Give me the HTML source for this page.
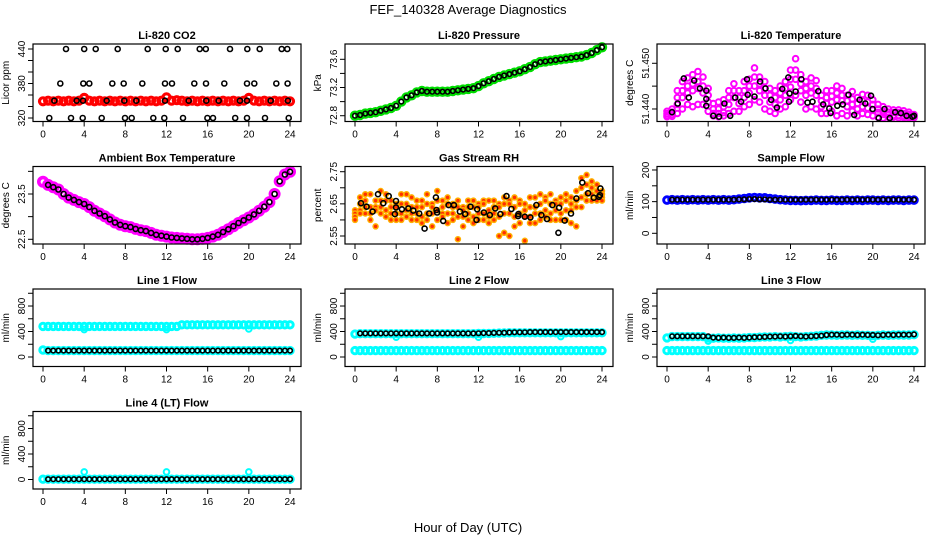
<!DOCTYPE html>
<html><head><meta charset="utf-8"><style>
html,body{margin:0;padding:0;background:#fff;}
svg{display:block;font-family:"Liberation Sans",sans-serif;}
</style></head><body>
<svg id="chart" width="936" height="540" viewBox="0 0 936 540">
<text x="468" y="14" text-anchor="middle" font-size="13">FEF_140328  Average Diagnostics</text>
<text x="468" y="532" text-anchor="middle" font-size="13">Hour of Day (UTC)</text>
</svg>
<script>
const hh=[0,0.5,1,1.5,2,2.5,3,3.5,4,4.5,5,5.5,6,6.5,7,7.5,8,8.5,9,9.5,10,10.5,11,11.5,12,12.5,13,13.5,14,14.5,15,15.5,16,16.5,17,17.5,18,18.5,19,19.5,20,20.5,21,21.5,22,22.5,23,23.5,24];
const bh=[0.5,1,1.5,2,2.5,3,3.5,4,4.5,5,5.5,6,6.5,7,7.5,8,8.5,9,9.5,10,10.5,11,11.5,12,12.5,13,13.5,14,14.5,15,15.5,16,16.5,17,17.5,18,18.5,19,19.5,20,20.5,21,21.5,22,22.5,23,23.5,24];
const xTicks=[0,4,8,12,16,20,24];
const spikeH=[4,12,20];

const co2Red=[349,350,349,350,349,350,349,350,355,350,349,350,349,350,349,350,349,350,349,350,349,350,349,350,356,350,351,350,349,350,349,350,349,350,349,350,349,350,349,350,355,350,349,350,349,350,349,350,349];
const co2BH=[2.23,4.0,5.12,7.26,10.17,11.92,13.09,15.23,15.82,18.17,19.85,21.06,23.19,23.74,1.68,3.92,4.5,6.73,7.84,9.65,11.85,12.53,14.7,15.84,17.62,19.82,20.53,22.67,23.77,1.1,3.27,3.89,6.19,7.9,9.07,11.85,14.16,15.87,17.07,19.14,19.82,22.12,23.8,0.61,2.72,3.86,5.7,7.97,8.62,10.72,11.79,13.6,15.97,16.52,18.68,19.82,21.57,23.87];
const co2BV=[440,440,440,440,440,440,440,440,440,440,440,440,440,440,380,380,380,380,380,380,380,380,380,380,380,380,380,380,380,350,350,350,350,350,350,350,350,350,350,350,350,350,350,320,320,320,320,320,320,320,320,320,320,320,320,320,320,320,320];
const pres=[72.80,72.81,72.83,72.84,72.85,72.87,72.89,72.91,72.94,73.00,73.06,73.09,73.13,73.15,73.14,73.14,73.14,73.14,73.14,73.15,73.16,73.17,73.18,73.19,73.22,73.26,73.29,73.32,73.35,73.37,73.39,73.41,73.43,73.46,73.49,73.53,73.56,73.57,73.58,73.59,73.60,73.61,73.62,73.63,73.64,73.66,73.69,73.73,73.77];
const ltH=[0.49,1.04,1.63,2.12,2.64,3.2,3.82,3.82,3.82,4.5,5.06,5.58,6.14,6.63,7.2,7.77,7.84,8.5,9.05,9.57,10.12,10.68,11.2,11.79,11.85,11.9,12.5,13.06,13.65,14.14,14.7,15.18,15.77,15.9,16.55,17.08,17.64,18.19,18.71,19.27,19.82,19.98,20.57,21.13,21.65,22.17,22.73,23.28,23.84,24];
const ltV=[51.4393,51.4412,51.4467,51.4425,51.4462,51.4445,51.444,51.4422,51.4407,51.4385,51.4383,51.4412,51.4385,51.4425,51.4416,51.4465,51.4431,51.4427,51.446,51.4445,51.442,51.4403,51.4444,51.4469,51.4416,51.4434,51.4438,51.4465,51.4414,51.4416,51.4439,51.441,51.4401,51.4391,51.4407,51.441,51.4431,51.4387,51.442,51.4412,51.4429,51.44,51.438,51.44,51.438,51.4393,51.4391,51.4385,51.4383,51.4385];
const magA=[51.4395,51.4400,51.4440,51.4460,51.4468,51.4475,51.4482,51.4470,51.4445,51.4412,51.4415,51.4420,51.4440,51.4455,51.4440,51.4460,51.4465,51.4490,51.4470,51.4460,51.4445,51.4440,51.4450,51.4460,51.4485,51.4510,51.4475,51.4460,51.4468,51.4462,51.4430,51.4440,51.4440,51.4450,51.4445,51.4430,51.4438,51.4425,51.4432,51.4430,51.4420,51.4410,51.4405,51.4400,51.4398,51.4398,51.4396,51.4393,51.4388];
const magB=[51.4390,51.4393,51.4425,51.4440,51.4450,51.4455,51.4460,51.4450,51.4430,51.4400,51.4400,51.4405,51.4425,51.4440,51.4425,51.4440,51.4450,51.4470,51.4455,51.4445,51.4430,51.4425,51.4435,51.4445,51.4465,51.4485,51.4455,51.4445,51.4450,51.4445,51.4418,51.4425,51.4428,51.4435,51.4430,51.4418,51.4422,51.4412,51.4418,51.4415,51.4410,51.4400,51.4395,51.4393,51.4392,51.4392,51.4390,51.4388,51.4385];
const magC=[51.4386,51.4388,51.4410,51.4425,51.4435,51.4440,51.4445,51.4435,51.4415,51.4390,51.4390,51.4392,51.4410,51.4425,51.4412,51.4425,51.4435,51.4450,51.4440,51.4430,51.4415,51.4410,51.4420,51.4430,51.4448,51.4465,51.4440,51.4430,51.4435,51.4430,51.4405,51.4412,51.4415,51.4420,51.4418,51.4405,51.4410,51.4400,51.4405,51.4402,51.4398,51.4392,51.4388,51.4388,51.4386,51.4386,51.4385,51.4384,51.4383];
const magD=[51.4383,51.4384,51.4390,51.4400,51.4410,51.4405,51.4410,51.4410,51.4395,51.4385,51.4383,51.4385,51.4390,51.4395,51.4395,51.4405,51.4410,51.4420,51.4415,51.4400,51.4395,51.4390,51.4400,51.4405,51.4420,51.4430,51.4415,51.4400,51.4405,51.4400,51.4390,51.4390,51.4395,51.4385,51.4390,51.4385,51.4395,51.4385,51.4390,51.4388,51.4385,51.4382,51.4380,51.4382,51.4382,51.4381,51.4381,51.4380,51.4381];
const amb=[23.77,23.70,23.65,23.60,23.50,23.42,23.37,23.32,23.28,23.21,23.13,23.07,23.01,22.94,22.87,22.82,22.79,22.77,22.73,22.70,22.68,22.64,22.60,22.58,22.56,22.54,22.53,22.52,22.51,22.50,22.50,22.51,22.53,22.56,22.60,22.66,22.72,22.79,22.86,22.92,22.98,23.05,23.13,23.22,23.32,23.50,23.78,23.93,23.99];
const rhA=[2.63,2.67,2.68,2.68,2.66,2.69,2.68,2.66,2.65,2.68,2.68,2.67,2.66,2.66,2.68,2.65,2.69,2.66,2.67,2.65,2.66,2.64,2.66,2.66,2.65,2.66,2.66,2.66,2.65,2.67,2.66,2.67,2.66,2.65,2.67,2.67,2.68,2.67,2.68,2.66,2.67,2.68,2.67,2.69,2.73,2.74,2.72,2.71,2.69];
const rhB=[2.62,2.65,2.66,2.64,2.64,2.66,2.66,2.64,2.64,2.65,2.65,2.64,2.64,2.64,2.65,2.64,2.66,2.64,2.65,2.64,2.64,2.63,2.64,2.64,2.64,2.65,2.63,2.64,2.64,2.65,2.65,2.64,2.65,2.63,2.64,2.64,2.65,2.66,2.65,2.65,2.65,2.66,2.65,2.66,2.70,2.71,2.70,2.69,2.68];
const rhC=[2.61,2.63,2.64,2.62,2.63,2.64,2.63,2.62,2.62,2.62,2.63,2.62,2.62,2.61,2.62,2.62,2.63,2.62,2.62,2.62,2.61,2.61,2.62,2.61,2.62,2.62,2.61,2.62,2.61,2.62,2.62,2.61,2.62,2.61,2.61,2.62,2.62,2.63,2.62,2.63,2.62,2.63,2.63,2.64,2.67,2.68,2.68,2.67,2.67];
const rhD=[2.60,2.62,2.62,2.60,2.58,2.62,2.61,2.60,2.60,2.60,2.61,2.60,2.60,2.59,2.60,2.58,2.60,2.61,2.59,2.60,2.54,2.58,2.60,2.59,2.60,2.60,2.59,2.60,2.55,2.56,2.55,2.58,2.59,2.535,2.59,2.59,2.60,2.61,2.60,2.60,2.60,2.60,2.59,2.58,2.64,2.66,2.66,2.66,2.66];
const rhBH=[0.58,1.13,1.71,2.23,2.75,3.27,3.88,3.98,3.98,4.56,5.18,5.66,6.24,6.76,7.21,7.86,7.92,7.98,8.57,9.09,9.61,10.19,10.71,11.22,11.81,11.87,12.52,13.1,13.62,14.13,14.72,15.2,15.85,15.88,16.5,17.04,17.63,18.11,18.66,19.18,19.76,19.83,20.38,20.99,21.51,22.09,22.65,23.2,23.71,23.84,23.8];
const rhBV=[2.652,2.641,2.626,2.68,2.652,2.674,2.618,2.659,2.639,2.633,2.636,2.629,2.62,2.573,2.62,2.67,2.631,2.623,2.597,2.646,2.646,2.626,2.618,2.641,2.6,2.633,2.623,2.615,2.636,2.618,2.674,2.634,2.612,2.618,2.61,2.608,2.646,2.615,2.603,2.646,2.56,2.638,2.598,2.62,2.667,2.716,2.683,2.669,2.672,2.698,2.677];
const sfBlue=[105,106,105,106,105,106,105,106,105,106,105,106,105,106,108,110,112,113,112,112,110,108,106,105,104,104,103,104,104,105,104,104,105,104,104,105,104,105,104,105,105,104,105,104,105,105,104,105,105];
const sfBlack=[106,106,106,106,106,106,106,106,106,106,106,106,106,107,107,108,108,107,107,106,106,106,106,106,106,106,106,106,106,106,106,106,106,106,106,106,106,106,106,106,106,106,106,106,106,106,106,106];
const l1Hi=[480,480,480,480,480,480,480,480,480,480,480,480,480,480,480,480,480,480,480,480,480,480,480,480,480,480,480,505,505,505,505,505,505,505,505,505,505,505,505,505,505,505,505,505,505,505,505,505,505];
const l1Lo=[110,100,100,100,100,100,100,100,100,100,100,100,100,100,100,100,100,100,100,100,100,100,100,100,100,100,100,100,100,100,100,100,100,100,100,100,100,100,100,100,100,100,100,100,100,100,100,100,100];
const l1Blk=[100,100,100,100,100,100,100,100,100,100,100,100,100,100,100,100,100,100,100,100,100,100,100,100,100,100,100,100,100,100,100,100,100,100,100,100,100,100,100,100,100,100,100,100,100,100,100,100];
const l1Spk=[430,430,440];
const l2Hi=[360,365,365,365,365,365,365,365,365,365,365,365,365,365,365,365,365,365,365,365,365,365,365,365,368,368,370,372,375,378,380,380,380,380,380,380,380,380,380,380,380,380,380,380,380,380,380,380,380];
const l2Lo=[100,100,100,100,100,100,100,100,100,100,100,100,100,100,100,100,100,100,100,100,100,100,100,100,100,100,100,100,100,100,100,100,100,100,100,100,100,100,100,100,100,100,100,100,100,100,100,100,100];
const l2Blk=[370,370,370,370,370,370,370,370,370,370,370,370,370,370,370,370,370,370,370,370,370,370,370,372,375,375,378,380,382,385,388,388,388,390,390,390,390,390,390,390,390,390,390,390,390,390,390,390];
const l2Spk=[310,310,320];
const l3Blk=[325,325,325,325,325,325,325,325,305,300,305,300,300,305,300,305,310,310,315,320,320,325,320,325,330,325,320,325,330,335,345,350,350,345,350,350,345,350,345,345,340,345,350,345,350,350,350,355];
const l3Hi=[300,320,320,320,320,320,320,320,300,295,300,295,295,300,295,300,305,305,310,315,315,320,315,320,325,320,315,320,325,330,340,345,345,340,345,345,340,345,340,340,335,340,345,340,345,345,345,345,350];
const l3Lo=[100,100,100,100,100,100,100,100,100,100,100,100,100,100,100,100,100,100,100,100,100,100,100,100,100,100,100,100,100,100,100,100,100,100,100,100,100,100,100,100,100,100,100,100,100,100,100,100,100];
const l3Spk=[250,260,280];
const l4Cy=[5,5,5,5,5,5,5,5,5,5,5,5,5,5,5,5,5,5,5,5,5,5,5,5,5,5,5,5,5,5,5,5,5,5,5,5,5,5,5,5,5,5,5,5,5,5,5,5,5];
const l4Blk=[5,5,5,5,5,5,5,5,5,5,5,5,5,5,5,5,5,5,5,5,5,5,5,5,5,5,5,5,5,5,5,5,5,5,5,5,5,5,5,5,5,5,5,5,5,5,5,5];
const l4Spk=[120,120,120];

const NS="http://www.w3.org/2000/svg";
const svg=document.getElementById('chart');
const colLeft=[33,345,657], boxW=268, boxH=77.5;
function rowTop(r){return 44+122.5*r;}
function mk(tag,attrs,parent){const e=document.createElementNS(NS,tag);for(const k in attrs)e.setAttribute(k,attrs[k]);(parent||svg).appendChild(e);return e;}

function panel(p){
  const L=colLeft[p.col], T=rowTop(p.row), B=T+boxH;
  const g=mk('g',{});
  
  
  const xs=h=>L+10+h/24*247;
  const ys=v=>T+(p.ymax-v)/(p.ymax-p.ymin)*boxH;
  const t=mk('text',{x:L+boxW/2,y:T-5,'text-anchor':'middle','font-size':11,'font-weight':'bold'},g);
  t.textContent=p.title;
  
  
  p.series.forEach(s=>{
    const sg=mk('g',{},g);
    
    
    s.ys.forEach((v,i)=>{
      if(v==null||s.xs[i]==null)return;
      const c=mk('circle',{cx:xs(s.xs[i]).toFixed(1),cy:ys(v).toFixed(1),r:s.r,fill:s.fill||'none',stroke:s.c,'stroke-width':s.sw},sg);
      
      
    });
  });
  const box=mk('rect',{x:L,y:T,width:boxW,height:boxH,fill:'none',stroke:'#000','stroke-width':1.2},g);
  
  
  const xa=mk('g',{},g);
  
  
  mk('line',{x1:xs(0),x2:xs(24),y1:B,y2:B,stroke:'#000'},xa);
  xTicks.forEach(h=>{
    mk('line',{x1:xs(h),x2:xs(h),y1:B,y2:B+5,stroke:'#000'},xa);
    const tx=mk('text',{x:xs(h),y:B+16,'text-anchor':'middle','font-size':10},xa);
    tx.textContent=h;
  });
  const ya=mk('g',{},g);
  
  
  const t0=p.yt[0], t1=p.yt[p.yt.length-1];
  mk('line',{x1:L,x2:L,y1:ys(t0),y2:ys(t1),stroke:'#000'},ya);
  p.yt.forEach(v=>{ mk('line',{x1:L-5,x2:L,y1:ys(v),y2:ys(v),stroke:'#000'},ya); });
  p.yl.forEach((lab,i)=>{
    const y=ys(p.ylv[i]);
    const tx=mk('text',{x:L-8,y:y,'text-anchor':'middle','font-size':10,transform:`rotate(-90 ${L-8} ${y})`},ya);
    tx.textContent=lab;
  });
  const yt=mk('text',{x:L-24,y:(T+B)/2,'text-anchor':'middle','font-size':10,transform:`rotate(-90 ${L-24} ${(T+B)/2})`},g);
  yt.textContent=p.ylab;
  
  
}
const K='#000';
const flowT=[0,200,400,600,800,1000], flowL=['0','400','800'], flowLV=[0,400,800];
panel({name:'co2',col:0,row:0,title:'Li-820 CO2',ylab:'Licor ppm',ymin:313.9,ymax:448.7,yt:[320,340,360,380,400,420,440],yl:['320','380','440'],ylv:[320,380,440],
  series:[{name:'co2-all',xs:hh,ys:co2Red,c:'#ff0000',r:3.5,sw:3.2},{name:'co2-avg',xs:co2BH,ys:co2BV,c:K,r:2.5,sw:1.6}]});
panel({name:'pressure',col:1,row:0,title:'Li-820 Pressure',ylab:'kPa',ymin:72.718,ymax:73.817,yt:[72.8,73.0,73.2,73.4,73.6],yl:['72.8','73.2','73.6'],ylv:[72.8,73.2,73.6],
  series:[{name:'pressure-all',xs:hh,ys:pres,c:'#00dd00',r:3.6,sw:3.2},{name:'pressure-avg',xs:hh,ys:pres,c:K,r:2.3,sw:1.6}]});
panel({name:'li-temp',col:2,row:0,title:'Li-820 Temperature',ylab:'degrees C',ymin:51.43726,ymax:51.45422,yt:[51.44,51.445,51.45],yl:['51.440','51.450'],ylv:[51.44,51.45],
  series:[{name:'li-temp-all-a',xs:hh,ys:magA,c:'#ff00ff',r:2.8,sw:2},{name:'li-temp-all-b',xs:hh,ys:magB,c:'#ff00ff',r:2.8,sw:2},{name:'li-temp-all-c',xs:hh,ys:magC,c:'#ff00ff',r:2.8,sw:2},{name:'li-temp-all-d',xs:hh,ys:magD,c:'#ff00ff',r:2.8,sw:2},{name:'li-temp-avg',xs:ltH,ys:ltV,c:K,r:2.5,sw:1.6}]});
panel({name:'ambient-temp',col:0,row:1,title:'Ambient Box Temperature',ylab:'degrees C',ymin:22.396,ymax:24.107,yt:[22.5,23.0,23.5,24.0],yl:['22.5','23.5'],ylv:[22.5,23.5],
  series:[{name:'ambient-all',xs:hh,ys:amb,c:'#ff00ff',r:4.2,sw:3.6},{name:'ambient-avg',xs:bh,ys:amb.slice(1),c:K,r:2.5,sw:1.6}]});
panel({name:'gas-rh',col:1,row:1,title:'Gas Stream RH',ylab:'percent',ymin:2.5251,ymax:2.7662,yt:[2.55,2.6,2.65,2.7,2.75],yl:['2.55','2.65','2.75'],ylv:[2.55,2.65,2.75],
  series:[{name:'rh-all-a',xs:hh,ys:rhA,c:'#ffb000',fill:'#ff3000',r:2.5,sw:1.5},{name:'rh-all-b',xs:hh,ys:rhB,c:'#ffb000',fill:'#ff3000',r:2.5,sw:1.5},{name:'rh-all-c',xs:hh,ys:rhC,c:'#ffb000',fill:'#ff3000',r:2.5,sw:1.5},{name:'rh-all-d',xs:hh,ys:rhD,c:'#ffb000',fill:'#ff3000',r:2.5,sw:1.5},{name:'rh-avg',xs:rhBH,ys:rhBV,c:K,r:2.5,sw:1.6}]});
panel({name:'sample-flow',col:2,row:1,title:'Sample Flow',ylab:'ml/min',ymin:-33.8,ymax:211,yt:[0,50,100,150,200],yl:['0','100','200'],ylv:[0,100,200],
  series:[{name:'sample-all',xs:hh,ys:sfBlue,c:'#0000ff',r:3.3,sw:3},{name:'sample-avg',xs:bh,ys:sfBlack,c:K,r:2.3,sw:1.6}]});
panel({name:'line1-flow',col:0,row:2,title:'Line 1 Flow',ylab:'ml/min',ymin:-149,ymax:1067,yt:flowT,yl:flowL,ylv:flowLV,
  series:[{name:'line1-upper',xs:hh,ys:l1Hi,c:'#00ffff',r:3.2,sw:3},{name:'line1-spikes',xs:spikeH,ys:l1Spk,c:'#00ffff',r:2.8,sw:2},{name:'line1-lower',xs:hh,ys:l1Lo,c:'#00ffff',r:3.2,sw:3},{name:'line1-avg',xs:bh,ys:l1Blk,c:K,r:2.3,sw:1.6}]});
panel({name:'line2-flow',col:1,row:2,title:'Line 2 Flow',ylab:'ml/min',ymin:-149,ymax:1067,yt:flowT,yl:flowL,ylv:flowLV,
  series:[{name:'line2-upper',xs:hh,ys:l2Hi,c:'#00ffff',r:3.2,sw:3},{name:'line2-spikes',xs:spikeH,ys:l2Spk,c:'#00ffff',r:2.8,sw:2},{name:'line2-lower',xs:hh,ys:l2Lo,c:'#00ffff',r:3.2,sw:3},{name:'line2-avg',xs:bh,ys:l2Blk,c:K,r:2.3,sw:1.6}]});
panel({name:'line3-flow',col:2,row:2,title:'Line 3 Flow',ylab:'ml/min',ymin:-149,ymax:1067,yt:flowT,yl:flowL,ylv:flowLV,
  series:[{name:'line3-upper',xs:hh,ys:l3Hi,c:'#00ffff',r:3.2,sw:3},{name:'line3-spikes',xs:spikeH,ys:l3Spk,c:'#00ffff',r:2.8,sw:2},{name:'line3-lower',xs:hh,ys:l3Lo,c:'#00ffff',r:3.2,sw:3},{name:'line3-avg',xs:bh,ys:l3Blk,c:K,r:2.3,sw:1.6}]});
panel({name:'line4-flow',col:0,row:3,title:'Line 4 (LT) Flow',ylab:'ml/min',ymin:-149,ymax:1067,yt:flowT,yl:flowL,ylv:flowLV,
  series:[{name:'line4-all',xs:hh,ys:l4Cy,c:'#00ffff',r:3.2,sw:3},{name:'line4-spikes',xs:spikeH,ys:l4Spk,c:'#00ffff',r:2.8,sw:2},{name:'line4-avg',xs:bh,ys:l4Blk,c:K,r:2.3,sw:1.6}]});
</script>
</body></html>
